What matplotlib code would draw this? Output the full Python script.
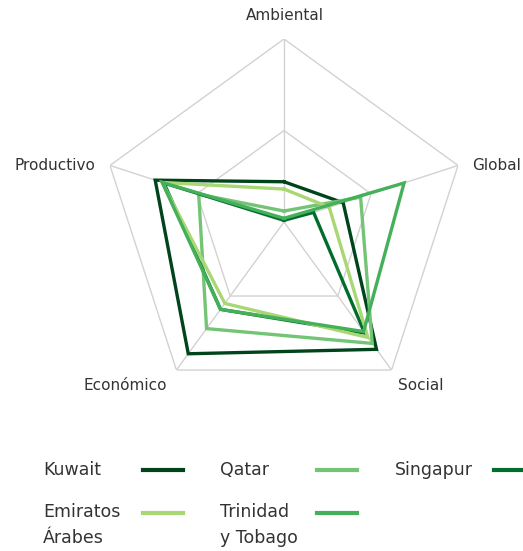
import matplotlib
matplotlib.use("Agg")
import matplotlib.pyplot as plt
import numpy as np
from matplotlib.lines import Line2D

# data (0-100 scale, rings at 50 and 100)
AXES = ["Ambiental", "Global", "Social", "Económico", "Productivo"]
COUNTRIES = ["Kuwait", "Qatar", "Singapur", "Emiratos\nÁrabes", "Trinidad\ny Tobago"]
KUWAIT = [22, 34, 86, 89, 74]
QATAR = [6, 44, 82, 72, 49]
SINGAPUR = [1, 17, 75, 59, 69]
EMIRATOS = [18, 26, 78, 55, 70]
TRINIDAD = [2, 69, 74, 59, 70]
GRID_LEVELS = [50, 100]

SERIES = [KUWAIT, QATAR, SINGAPUR, EMIRATOS, TRINIDAD]
COLORS = ["#00441b", "#74c476", "#006d2c", "#a9d774", "#45b05a"]

W, H = 523, 551
TEXT = "#333333"


def fx(px):
    return px / W


def fy(py):
    return 1 - py / H


fig = plt.figure(figsize=(W / 100, H / 100), dpi=100)

cx, cy, R = 284, 222, 183
ax = fig.add_axes([fx(cx - R), fy(cy + R), 2 * R / W, 2 * R / H], projection="polar")
ax.set_theta_offset(np.pi / 2)
ax.set_theta_direction(-1)
ax.set_ylim(0, 100)
ax.grid(False)
ax.spines["polar"].set_visible(False)
ax.set_xticks([])
ax.set_yticks([])
ax.patch.set_visible(False)

angles = np.linspace(0, 2 * np.pi, len(AXES), endpoint=False)
closed = np.append(angles, angles[0])

for level in GRID_LEVELS:
    ax.plot(closed, [level] * len(closed), color="#d2d2d2", lw=1.0, zorder=1)
for a in angles:
    ax.plot([a, a], [0, GRID_LEVELS[-1]], color="#d2d2d2", lw=1.0, zorder=1)

for values, color in zip(SERIES, COLORS):
    ax.plot(closed, values + values[:1], color=color, lw=2.4, zorder=3,
            solid_joinstyle="miter")

# axis labels
lab_fs = 11
fig.text(fx(285), fy(15), AXES[0], ha="center", va="center", fontsize=lab_fs, color=TEXT)
fig.text(fx(472), fy(165), AXES[1], ha="left", va="center", fontsize=lab_fs, color=TEXT)
fig.text(fx(421), fy(386), AXES[2], ha="center", va="center", fontsize=lab_fs, color=TEXT)
fig.text(fx(125), fy(386), AXES[3], ha="center", va="center", fontsize=lab_fs, color=TEXT)
fig.text(fx(95), fy(165), AXES[4], ha="right", va="center", fontsize=lab_fs, color=TEXT)

# legend, laid out by hand like the original
leg_fs = 12.5
slots = [(43, 143, 470), (220, 317, 470), (395, 494, 470), (43, 143, 513), (220, 317, 513)]
for name, color, (tx, sx, y) in zip(COUNTRIES, COLORS, slots):
    if "\n" in name:
        fig.text(fx(tx), fy(y - 10), name, ha="left", va="top", fontsize=leg_fs,
                 color=TEXT, linespacing=1.55)
    else:
        fig.text(fx(tx), fy(y), name, ha="left", va="center", fontsize=leg_fs, color=TEXT)
    fig.add_artist(Line2D([fx(sx), fx(sx + 40)], [fy(y), fy(y)], transform=fig.transFigure,
                          color=color, lw=3))

fig.savefig("out.png", dpi=100)
